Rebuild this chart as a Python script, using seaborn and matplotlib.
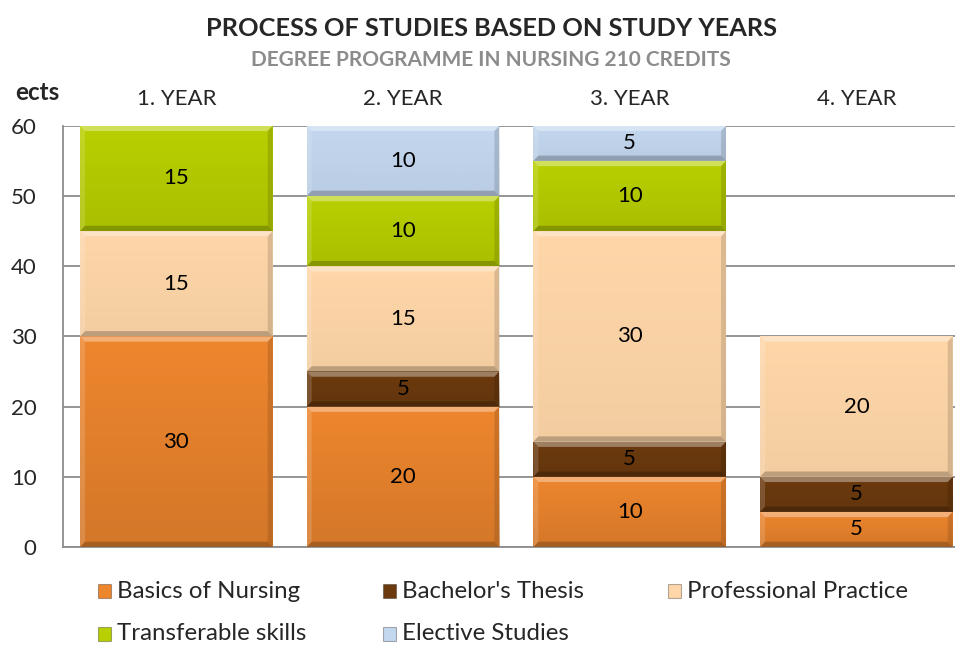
import numpy as np
import pandas as pd
import matplotlib.pyplot as plt
from matplotlib.colors import to_rgb
from matplotlib.patches import Polygon, Rectangle
import seaborn as sns

# -----------------------------
# data (ects per study year)
# -----------------------------
years = ["1. YEAR", "2. YEAR", "3. YEAR", "4. YEAR"]
components = ["Basics of Nursing", "Bachelor's Thesis", "Professional Practice",
              "Transferable skills", "Elective Studies"]
basics = [30, 20, 10, 5]
thesis = [0, 5, 5, 5]
practice = [15, 15, 30, 20]
transferable = [15, 10, 10, 0]
elective = [0, 10, 5, 0]
y_ticks = [0, 10, 20, 30, 40, 50, 60]

colors = ["#EE862E", "#6C3A0E", "#FED6A8", "#B8D000", "#C3D7EF"]
shade_strength = [0.55, 0.4, 0.22, 0.4, 0.25]   # how much each fill darkens toward its base

sns.set_style("white")
plt.rcParams["font.family"] = ["Lato", "DejaVu Sans"]

df = pd.DataFrame(
    {"Basics of Nursing": basics, "Bachelor's Thesis": thesis,
     "Professional Practice": practice, "Transferable skills": transferable,
     "Elective Studies": elective},
    index=years,
)[components]
tops = df.cumsum(axis=1)
bottoms = tops - df

fig = plt.figure(figsize=(9.55, 6.46), dpi=100)
ax = fig.add_axes([0.066, 0.1533, 0.934, 0.652])

BAR_W = 0.85

# stacked bars: draw cumulative heights from the top layer down
for comp, col in reversed(list(zip(components, colors))):
    sns.barplot(x=years, y=tops[comp].values, order=years, color=col,
                saturation=1, width=BAR_W, linewidth=0, ax=ax, zorder=2)

# bevel look + value labels on each segment
dx, dy = 0.022, 0.75
for i, yr in enumerate(years):
    x0, x1 = i - BAR_W / 2, i + BAR_W / 2
    for comp, col, strength in zip(components, colors, shade_strength):
        v = df.loc[yr, comp]
        if v == 0:
            continue
        b, t = bottoms.loc[yr, comp], tops.loc[yr, comp]
        # vertical shading with a darker tone of the same hue
        dark = np.array(to_rgb(col)) * 0.8
        shade = np.zeros((64, 1, 4))
        shade[:, 0, :3] = dark
        shade[:, 0, 3] = np.linspace(0.0, strength, 64)
        ax.imshow(shade, extent=[x0, x1, b, t], aspect="auto", zorder=3,
                  interpolation="bilinear")
        ax.add_patch(Polygon([(x0, t), (x1, t), (x1 - dx, t - dy), (x0 + dx, t - dy)],
                             closed=True, fc="white", alpha=0.35, lw=0, zorder=4))
        ax.add_patch(Polygon([(x0, b), (x1, b), (x1 - dx, b + dy), (x0 + dx, b + dy)],
                             closed=True, fc=tuple(dark * 0.6), alpha=0.45, lw=0, zorder=4))
        ax.add_patch(Polygon([(x0, b), (x0, t), (x0 + dx, t - dy), (x0 + dx, b + dy)],
                             closed=True, fc="white", alpha=0.15, lw=0, zorder=4))
        ax.add_patch(Polygon([(x1, b), (x1, t), (x1 - dx, t - dy), (x1 - dx, b + dy)],
                             closed=True, fc=tuple(dark * 0.7), alpha=0.3, lw=0, zorder=4))
        ax.text(i, (b + t) / 2, f"{v}", ha="center", va="center",
                fontsize=16, color="black", zorder=5)

ax.set_xlim(-0.5, 3.435)
ax.set_ylim(0, 60)
ax.set_yticks(y_ticks)
ax.set_yticklabels([str(t) for t in y_ticks], fontsize=16)
ax.set_xlabel("")
ax.set_ylabel("")
ax.xaxis.tick_top()
ax.set_xticks(range(len(years)))
ax.set_xticklabels(years, fontsize=16)
ax.tick_params(axis="x", length=0, pad=12)
ax.tick_params(axis="y", length=0, pad=19)

ax.yaxis.grid(True, color="#8C8C8C", linewidth=1.3, zorder=0)
ax.set_axisbelow(True)
for side in ["top", "right"]:
    ax.spines[side].set_visible(False)
for side in ["left", "bottom"]:
    ax.spines[side].set_color("#8C8C8C")
    ax.spines[side].set_linewidth(1.3)

fig.text(491 / 955, 1 - 29 / 646, "PROCESS OF STUDIES BASED ON STUDY YEARS",
         ha="center", va="center", fontsize=18.3, fontweight="bold")
fig.text(491 / 955, 1 - 60 / 646, "DEGREE PROGRAMME IN NURSING 210 CREDITS",
         ha="center", va="center", fontsize=15, fontweight="bold", color="#8C8C8C")
fig.text(15 / 955, 1 - 93 / 646, "ects", ha="left", va="center",
         fontsize=17.5, fontweight="bold")

# legend, laid out in two rows like the reference
leg_x = [117, 402, 687]
leg_y = [591, 634]
for k, (name, col) in enumerate(zip(components, colors)):
    tx, ty = leg_x[k % 3], leg_y[k // 3]
    fig.patches.append(Rectangle(((tx - 19) / 955, 1 - (ty + 7) / 646), 13 / 955, 14 / 646,
                                 transform=fig.transFigure, figure=fig,
                                 facecolor=col, edgecolor=(0, 0, 0, 0.3), linewidth=0.8))
    fig.text(tx / 955, 1 - ty / 646, name, ha="left", va="center", fontsize=17.3)

fig.savefig("out.png", dpi=100)
